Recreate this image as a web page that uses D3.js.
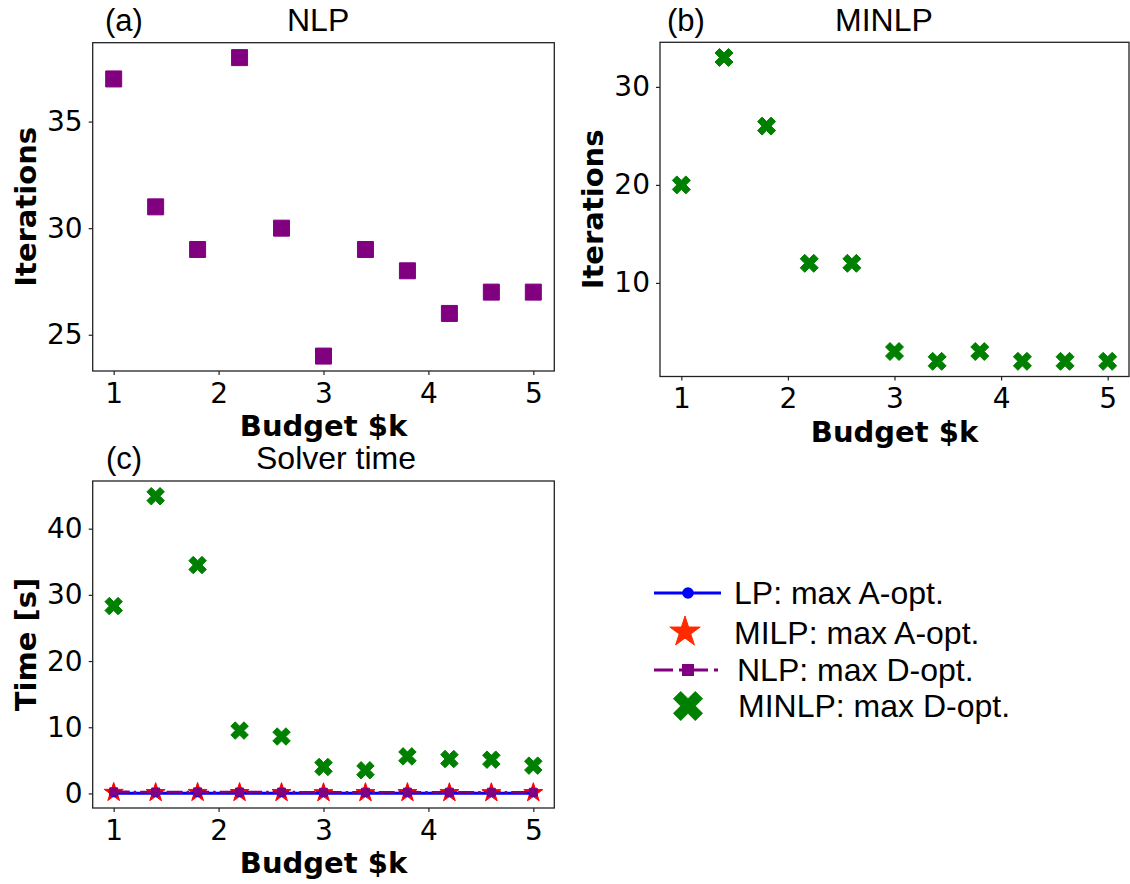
<!DOCTYPE html>
<html>
<head>
<meta charset="utf-8">
<script src="https://cdn.jsdelivr.net/npm/d3@7"></script>
<style>
  html, body { margin: 0; padding: 0; background: #fff; }
  svg { display: block; }
</style>
</head>
<body>
<svg id="chart" width="1130" height="884"></svg>
<script>
// ---------------- data ----------------
const budget = [1.0, 1.4, 1.8, 2.2, 2.6, 3.0, 3.4, 3.8, 4.2, 4.6, 5.0];
const nlpIterations = [37, 31, 29, 38, 30, 24, 29, 28, 26, 27, 27];
const minlpIterations = [20, 33, 26, 12, 12, 3, 2, 3, 2, 2, 2];
const lpTime = [0.03, 0.03, 0.03, 0.03, 0.03, 0.02, 0.02, 0.02, 0.02, 0.02, 0.02];
const milpTime = [0.15, 0.12, 0.14, 0.13, 0.12, 0.10, 0.11, 0.12, 0.11, 0.10, 0.11];
const nlpTime = [0.25, 0.22, 0.24, 0.22, 0.21, 0.18, 0.19, 0.20, 0.19, 0.18, 0.18];
const minlpTime = [28.3, 44.9, 34.5, 9.5, 8.6, 4.0, 3.5, 5.6, 5.2, 5.1, 4.2];
const xTicks = [1, 2, 3, 4, 5];
const nlpIterTicks = [25, 30, 35];
const minlpIterTicks = [10, 20, 30];
const timeTicks = [0, 10, 20, 30, 40];
const legendLabels = ["LP: max A-opt.", "MILP: max A-opt.", "NLP: max D-opt.", "MINLP: max D-opt."];

// ---------------- styles ----------------
const C_PURPLE = "#800080", C_GREEN = "#008000", C_RED = "#ff0000", C_BLUE = "#0000ff";
const TICK_FONT = "'DejaVu Sans', sans-serif";
const TITLE_FONT = "'Liberation Sans', Arial, sans-serif";

const svg = d3.select("#chart");

// marker path helpers
function xPath(size) {
  const pts = [[0.25,0],[0.5,0.25],[0.25,0.5],[0,0.25],[-0.25,0.5],[-0.5,0.25],
               [-0.25,0],[-0.5,-0.25],[-0.25,-0.5],[0,-0.25],[0.25,-0.5],[0.5,-0.25]];
  return "M" + pts.map(p => [p[0]*size, p[1]*size].join(",")).join("L") + "Z";
}
function starPath(r) {
  const ri = r * 0.381966;
  const pts = [];
  for (let i = 0; i < 10; i++) {
    const a = -Math.PI / 2 + i * Math.PI / 5;
    const rr = i % 2 === 0 ? r : ri;
    pts.push([rr * Math.cos(a), rr * Math.sin(a)]);
  }
  return "M" + pts.map(p => p.join(",")).join("L") + "Z";
}
function squarePath(s) {
  const h = s / 2;
  return `M${-h},${-h}L${h},${-h}L${h},${h}L${-h},${h}Z`;
}

function makePanel(box, yDomain, yTickVals, yLabel) {
  const x = d3.scaleLinear().domain([0.8, 5.2]).range([box.x0, box.x1]);
  const y = d3.scaleLinear().domain(yDomain).range([box.y1, box.y0]);
  const g = svg.append("g");

  const xa = g.append("g").attr("transform", `translate(0,${box.y1})`)
    .call(d3.axisBottom(x).tickValues(xTicks).tickFormat(d3.format("d")).tickSize(4).tickPadding(8));
  const ya = g.append("g").attr("transform", `translate(${box.x0},0)`)
    .call(d3.axisLeft(y).tickValues(yTickVals).tickFormat(d3.format("d")).tickSize(4).tickPadding(6));
  [xa, ya].forEach(a => {
    a.select(".domain").remove();
    a.selectAll("line").attr("stroke", "#222").attr("stroke-width", 1.2);
    a.selectAll("text").attr("font-family", TICK_FONT).attr("font-size", 28).attr("fill", "#000");
  });

  g.append("text")
    .attr("x", (box.x0 + box.x1) / 2).attr("y", box.y1 + 65)
    .attr("text-anchor", "middle")
    .attr("font-family", TICK_FONT).attr("font-weight", "bold").attr("font-size", 29)
    .text("Budget $k");
  g.append("text")
    .attr("transform", `translate(${box.x0 - 57},${(box.y0 + box.y1) / 2}) rotate(-90)`)
    .attr("text-anchor", "middle")
    .attr("font-family", TICK_FONT).attr("font-weight", "bold").attr("font-size", 29)
    .text(yLabel);

  const plot = g.append("g");
  g.append("rect")
    .attr("x", box.x0).attr("y", box.y0)
    .attr("width", box.x1 - box.x0).attr("height", box.y1 - box.y0)
    .attr("fill", "none").attr("stroke", "#222").attr("stroke-width", 1.3);
  return { x, y, plot, g };
}

function addTitle(tag, tagX, title, titleX, baseY) {
  svg.append("text").attr("x", tagX).attr("y", baseY)
    .attr("font-family", TITLE_FONT).attr("font-size", 31).text(tag);
  svg.append("text").attr("x", titleX).attr("y", baseY)
    .attr("font-family", TITLE_FONT).attr("font-size", 32).text(title);
}

function scatter(p, values, pathStr, color) {
  p.plot.selectAll(null).data(budget.map((b, i) => [b, values[i]])).enter()
    .append("path")
    .attr("d", pathStr)
    .attr("transform", d => `translate(${p.x(d[0])},${p.y(d[1])})`)
    .attr("fill", color).attr("stroke", color).attr("stroke-width", 1);
}

// ---------------- panel (a) ----------------
const pa = makePanel({ x0: 92.7, x1: 554.3, y0: 42.7, y1: 371 }, [23.3, 38.7], nlpIterTicks, "Iterations");
scatter(pa, nlpIterations, squarePath(16), C_PURPLE);
addTitle("(a)", 105, "NLP", 287, 31);

// ---------------- panel (b) ----------------
const pb = makePanel({ x0: 660, x1: 1129, y0: 42.3, y1: 376.5 }, [0.45, 34.55], minlpIterTicks, "Iterations");
scatter(pb, minlpIterations, xPath(18), C_GREEN);
addTitle("(b)", 667, "MINLP", 835, 31);

// ---------------- panel (c) ----------------
const pc = makePanel({ x0: 92.7, x1: 554.3, y0: 481, y1: 808 }, [-2.2, 47.2], timeTicks, "Time [s]");
const line = (vals) => d3.line().x((d, i) => pc.x(budget[i])).y(d => pc.y(d))(vals);
scatter(pc, milpTime, starPath(10), C_RED);
pc.plot.append("path").attr("d", line(lpTime)).attr("fill", "none")
  .attr("stroke", C_BLUE).attr("stroke-width", 3);
pc.plot.selectAll(null).data(lpTime).enter().append("circle")
  .attr("cx", (d, i) => pc.x(budget[i])).attr("cy", d => pc.y(d)).attr("r", 4)
  .attr("fill", C_BLUE);
pc.plot.append("path").attr("d", line(nlpTime)).attr("fill", "none")
  .attr("stroke", C_PURPLE).attr("stroke-width", 2.5).attr("stroke-dasharray", "16,4,2.5,4");
scatter(pc, nlpTime, squarePath(8), C_PURPLE);
scatter(pc, minlpTime, xPath(17.5), C_GREEN);
addTitle("(c)", 106, "Solver time", 256, 469);

// ---------------- legend ----------------
const leg = svg.append("g");
const legY = [593, 632, 670, 706];
const legTextX = [734, 734, 737, 738];
const legBase = [604, 644, 681, 717];
const hx0 = 654, hx1 = 721, hxc = 688;
// LP
leg.append("line").attr("x1", hx0).attr("x2", hx1).attr("y1", legY[0]).attr("y2", legY[0])
  .attr("stroke", C_BLUE).attr("stroke-width", 3);
leg.append("circle").attr("cx", hxc).attr("cy", legY[0]).attr("r", 5.8).attr("fill", C_BLUE);
// MILP
leg.append("path").attr("d", starPath(16)).attr("transform", `translate(${685},${legY[1]})`)
  .attr("fill", "#ff2a00").attr("stroke", "#ff2a00").attr("stroke-width", 1);
// NLP
leg.append("line").attr("x1", hx0).attr("x2", hx1).attr("y1", legY[2]).attr("y2", legY[2])
  .attr("stroke", C_PURPLE).attr("stroke-width", 3).attr("stroke-dasharray", "19,6,4,6");
leg.append("path").attr("d", squarePath(12)).attr("transform", `translate(${hxc},${legY[2]})`)
  .attr("fill", C_PURPLE);
// MINLP
leg.append("path").attr("d", xPath(29)).attr("transform", `translate(${hxc},${legY[3]})`)
  .attr("fill", C_GREEN).attr("stroke", C_GREEN).attr("stroke-width", 1);
legendLabels.forEach((t, i) => {
  leg.append("text").attr("x", legTextX[i]).attr("y", legBase[i])
    .attr("font-family", TITLE_FONT).attr("font-size", 32).text(t);
});
</script>
</body>
</html>
